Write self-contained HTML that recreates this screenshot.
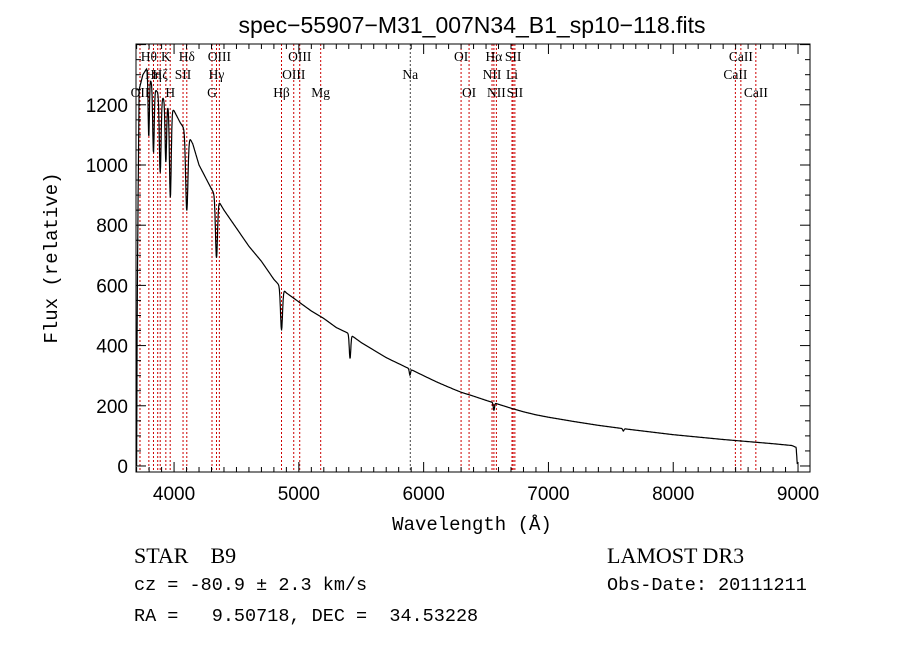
<!DOCTYPE html>
<html><head><meta charset="utf-8"><style>
body{margin:0;background:#fff;}
svg{display:block;font-family:"Liberation Sans",sans-serif;}
</style></head><body>
<svg id="c" width="900" height="649" viewBox="0 0 900 649" xmlns="http://www.w3.org/2000/svg">
<rect width="900" height="649" fill="#fff"/>
<text x="472" y="33" font-size="23" text-anchor="middle">spec−55907−M31_007N34_B1_sp10−118.fits</text>
<text transform="translate(57,258) rotate(-90)" font-size="19" font-family="Liberation Mono,monospace" text-anchor="middle">Flux (relative)</text>
<text x="472" y="530" font-size="19" font-family="Liberation Mono,monospace" text-anchor="middle">Wavelength (Å)</text>
<g id="lines"></g>
<g id="ticks"></g>
<path id="spec" fill="none" stroke="#000" stroke-width="1.2"/>
<rect x="136" y="44" width="674" height="428" fill="none" stroke="#000" stroke-width="1"/>
<g font-family="Liberation Mono,monospace">
<text x="134" y="563" font-size="22" font-family="Liberation Serif,serif" xml:space="preserve">STAR    B9</text>
<text x="607" y="563" font-size="22" font-family="Liberation Serif,serif">LAMOST DR3</text>
<text x="134" y="590" font-size="18.5" xml:space="preserve">cz = -80.9 ± 2.3 km/s</text>
<text x="607" y="590" font-size="18.5">Obs-Date: 20111211</text>
<text x="134" y="621" font-size="18.5" xml:space="preserve">RA =   9.50718, DEC =  34.53228</text>
</g>
</svg>
<script>
const waves=[3700,3705,3712,3720,3750,3780,3800,3850,3900,3950,4000,4050,4100,4150,4200,4250,4300,4400,4500,4600,4700,4800,4900,5000,5100,5200,5300,5400,5500,5600,5700,5800,5900,6000,6100,6200,6300,6400,6500,6600,6700,6800,6900,7000,7200,7400,7600,7800,8000,8200,8400,8600,8800,8950,8985,8995];
const fluxes=[0,550,900,1250,1300,1320,1290,1250,1230,1200,1180,1140,1110,1070,1000,960,920,850,790,730,680,620,575,545,515,490,460,440,410,385,360,340,320,300,280,262,245,232,218,205,192,180,170,162,148,135,124,114,104,96,88,81,74,68,62,0];
const absW=[3797,3835,3889,3934,3970,4102,4340,4861,5410,5890,6563,7600];
const absD=[200,220,260,200,300,260,200,140,80,20,25,8];
const absS=[5,6,7,6,7,9,8,8,6,5,5,5];
const yTicks=[0,200,400,600,800,1000,1200];
const xTicks=[4000,5000,6000,7000,8000,9000];
const lineW=[3727,3798,3835,3869,3889,3934,3969,4072,4102,4304,4340,4363,4861,4959,5007,5175,5893,6300,6364,6548,6563,6583,6708,6717,6731,8498,8542,8662];
const lineRed=[1,1,1,1,1,1,1,1,1,1,1,1,1,1,1,1,0,1,1,1,1,1,1,1,1,1,1,1];
const labels=[["OII",3727,2],["Hθ",3798,0],["Hη",3835,1],["K",3934,0],["H",3969,2],["Hζ",3889,1],["SII",4072,1],["Hδ",4102,0],["OIII",4363,0],["Hγ",4340,1],["G",4304,2],["Hβ",4861,2],["OIII",5007,0],["OIII",4959,1],["Mg",5175,2],["Na",5893,1],["OI",6300,0],["OI",6364,2],["Hα",6563,0],["NII",6548,1],["NII",6583,2],["SII",6717,0],["Li",6708,1],["SII",6731,2],["CaII",8542,0],["CaII",8498,1],["CaII",8662,2]];
const X0=136,X1=810,Y0=44,Y1=472,WMIN=3695,WMAX=9096,FMIN=-20,FMAX=1402;
const xs=w=>X0+(w-WMIN)/(WMAX-WMIN)*(X1-X0);
const ys=f=>Y1-(f-FMIN)/(FMAX-FMIN)*(Y1-Y0);
const NS="http://www.w3.org/2000/svg";
function mk(t,a,p){const e=document.createElementNS(NS,t);for(const k in a)e.setAttribute(k,a[k]);p.appendChild(e);return e;}
function base(w){for(let i=0;i<waves.length-1;i++){if(w<=waves[i+1]){const t=(w-waves[i])/(waves[i+1]-waves[i]);return fluxes[i]+t*(fluxes[i+1]-fluxes[i]);}}return fluxes[fluxes.length-1];}
let d="";
for(let w=waves[0];w<=waves[waves.length-1];w+=2){let f=base(w);for(let j=0;j<absW.length;j++){f-=absD[j]*Math.exp(-Math.pow((w-absW[j])/absS[j],2)/2);}d+=(d?"L":"M")+xs(w).toFixed(1)+","+ys(f).toFixed(1);}
document.getElementById('spec').setAttribute('d',d);
const lg=document.getElementById('lines');
lineW.forEach((w,i)=>{const l=mk('line',{x1:xs(w),x2:xs(w),y1:Y0,y2:Y1,stroke:lineRed[i]?'#c00':'#444','stroke-width':1,'stroke-dasharray':'2,2'},lg);

});
labels.forEach(L=>{const t=mk('text',{x:xs(L[1]),y:61+L[2]*18,'font-size':13.5,'text-anchor':'middle','font-family':'Liberation Serif,serif'},lg);t.textContent=L[0];

});
const tg=document.getElementById('ticks');
for(let w=3700;w<=9000;w+=100){const maj=w%1000===0;const h=maj?10:5;mk('line',{x1:xs(w),x2:xs(w),y1:Y1,y2:Y1-h,stroke:'#000'},tg);mk('line',{x1:xs(w),x2:xs(w),y1:Y0,y2:Y0+h,stroke:'#000'},tg);}
xTicks.forEach(w=>{const t=mk('text',{x:xs(w),y:Y1+28,'font-size':19,'text-anchor':'middle'},tg);t.textContent=w;

});
for(let f=0;f<=1400;f+=50){const maj=f%200===0;const h=maj?10:5;mk('line',{x1:X0,x2:X0+h,y1:ys(f),y2:ys(f),stroke:'#000'},tg);mk('line',{x1:X1,x2:X1-h,y1:ys(f),y2:ys(f),stroke:'#000'},tg);}
yTicks.forEach(f=>{const t=mk('text',{x:128,y:ys(f)+7,'font-size':19,'text-anchor':'end'},tg);t.textContent=f;

});
</script>
</body></html>
